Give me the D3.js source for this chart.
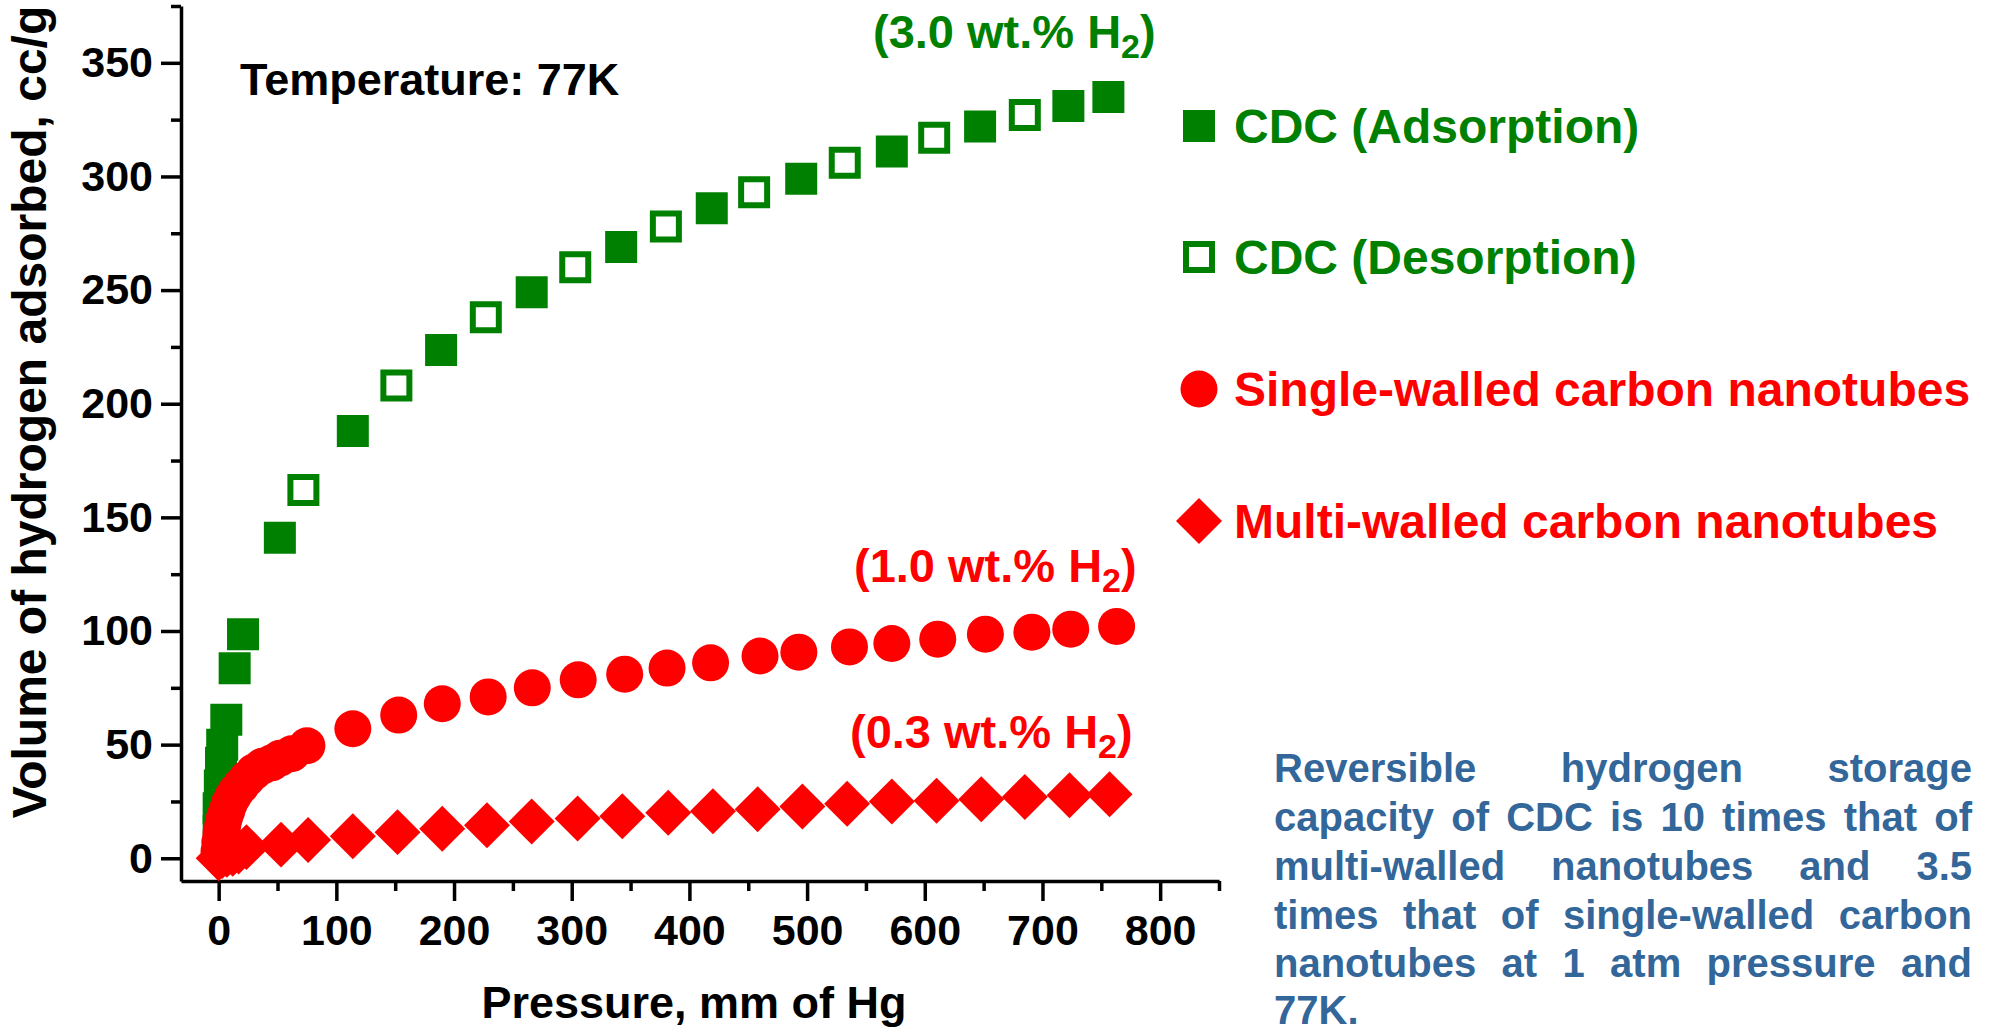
<!DOCTYPE html>
<meta charset="utf-8">
<style>
body { margin: 0; background: #fff; }
svg text { font-family: "Liberation Sans", Arial, sans-serif; font-weight: bold; }
.axis path, .axis line { fill: none; stroke: #000; stroke-width: 3.5px; }
</style>
<body>
<div id="chart"></div>
<script src="https://d3js.org/d3.v7.min.js"></script>
<script>

// values (pressure in mm Hg, volume in cc/g)
var cdcAdsP = [0, 0, 1, 2, 3, 6.5, 13.6, 20.7, 52, 114, 189, 266, 342, 419, 495, 572, 647, 722, 756];
var cdcAdsV = [12, 22, 32, 42, 50, 61, 83.6, 98.6, 141, 188, 223.6, 249, 269, 286, 299, 311, 322, 331, 335];

var cdcDesP = [72, 151, 227, 303, 380, 455, 532, 608, 685];
var cdcDesV = [162, 208, 238, 260, 278, 293, 306, 317, 327];

var swP = [0.3, 1, 2, 3.5, 5, 7, 9, 12, 15, 19, 24, 30, 37, 45, 52, 62, 75,
           114, 153, 190, 229, 266.5, 305.5, 345, 381, 418, 460, 493, 536, 572, 611, 651.5, 691, 724, 763];
var swV = [3, 7, 11, 14.5, 18, 21, 24, 27, 29.5, 32, 35, 38, 40.5, 42, 44, 46, 49.5,
           57, 63, 68, 71, 75, 78.5, 81, 83.7, 86, 89, 90.7, 93, 94.5, 96.4, 98.6, 99.5, 100.8, 102];

var mwP = [0, 3, 7, 12, 17, 23.6, 53, 76, 114, 152, 190, 228, 266, 305, 343, 382, 420, 458, 496, 534, 572, 610, 648, 685, 723, 757];
var mwV = [0, 1, 1.5, 2, 3, 4.9, 6, 8, 9.7, 11.5, 13, 14.5, 16.2, 17.5, 18.5, 20, 20.7, 21.6, 22.8, 24, 25, 25.3, 26, 27, 27.7, 28.2];

var xMajor = [0, 100, 200, 300, 400, 500, 600, 700, 800];
var xMinor = [50, 150, 250, 350, 450, 550, 650, 750, 850];
var yMajor = [0, 50, 100, 150, 200, 250, 300, 350];
var yMinor = [25, 75, 125, 175, 225, 275, 325, 375];

var legendLabels = ["CDC (Adsorption)", "CDC (Desorption)", "Single-walled carbon nanotubes", "Multi-walled carbon nanotubes"];
var noteLabels = ["(3.0 wt.% H", "(1.0 wt.% H", "(0.3 wt.% H"];
var noteLines = [
  "Reversible hydrogen storage",
  "capacity of CDC is 10 times that of",
  "multi-walled nanotubes and 3.5",
  "times that of single-walled carbon",
  "nanotubes at 1 atm pressure and",
  "77K."
];

var green = "#008000", red = "#ff0000", blue = "#336699";

var svg = d3.select("#chart").append("svg")
    .attr("width", 1995)
    .attr("height", 1033);

var x = d3.scaleLinear().domain([-32, 850]).range([181, 1219]);
var y = d3.scaleLinear().domain([-10, 375]).range([881, 6]);

// axes
var gx = svg.append("g").attr("class", "axis")
    .attr("transform", "translate(0," + y(-10) + ")")
    .call(d3.axisBottom(x).tickValues(xMajor).tickSize(20).tickSizeOuter(0));
gx.selectAll("text")
    .attr("y", 33).attr("dy", "0.71em")
    .style("font-size", "43px").style("fill", "#000");
svg.append("g").attr("class", "axis")
    .attr("transform", "translate(0," + y(-10) + ")")
    .call(d3.axisBottom(x).tickValues(xMinor).tickSize(10).tickSizeOuter(0).tickFormat(""))
    .select(".domain").remove();

var gy = svg.append("g").attr("class", "axis")
    .attr("transform", "translate(" + x(-32) + ",0)")
    .call(d3.axisLeft(y).tickValues(yMajor).tickSize(20).tickSizeOuter(0).tickPadding(8));
gy.selectAll("text").style("font-size", "43px").style("fill", "#000");
svg.append("g").attr("class", "axis")
    .attr("transform", "translate(" + x(-32) + ",0)")
    .call(d3.axisLeft(y).tickValues(yMinor).tickSize(10).tickSizeOuter(0).tickFormat(""))
    .select(".domain").remove();

// axis titles
svg.append("text")
    .attr("x", 694).attr("y", 1018)
    .attr("text-anchor", "middle")
    .style("font-size", "45px")
    .text("Pressure, mm of Hg");

svg.append("text")
    .attr("transform", "translate(46,412) rotate(-90)")
    .attr("text-anchor", "middle")
    .style("font-size", "48px")
    .text("Volume of hydrogen adsorbed, cc/g");

svg.append("text")
    .attr("x", 240).attr("y", 95)
    .style("font-size", "45px")
    .text("Temperature: 77K");

// markers
var squareFilled = d3.symbol().type(d3.symbolSquare).size(32 * 32);
var squareOpen = d3.symbol().type(d3.symbolSquare).size(26 * 26);
var circle = d3.symbol().type(d3.symbolCircle).size(Math.PI * 18.5 * 18.5);
var diamond = d3.symbol().type(d3.symbolSquare).size(32.5 * 32.5);

function pts(P, V) { return P.map(function(p, i) { return [p, V[i]]; }); }

svg.append("g").selectAll("path")
    .data(pts(cdcAdsP, cdcAdsV)).enter().append("path")
    .attr("d", squareFilled)
    .attr("transform", function(d) { return "translate(" + x(d[0]) + "," + y(d[1]) + ")"; })
    .attr("fill", green);

svg.append("g").selectAll("path")
    .data(pts(cdcDesP, cdcDesV)).enter().append("path")
    .attr("d", squareOpen)
    .attr("transform", function(d) { return "translate(" + x(d[0]) + "," + y(d[1]) + ")"; })
    .attr("fill", "#fff").attr("stroke", green).attr("stroke-width", 6);

svg.append("g").selectAll("path")
    .data(pts(swP, swV)).enter().append("path")
    .attr("d", circle)
    .attr("transform", function(d) { return "translate(" + x(d[0]) + "," + y(d[1]) + ")"; })
    .attr("fill", red);

svg.append("g").selectAll("path")
    .data(pts(mwP, mwV)).enter().append("path")
    .attr("d", diamond)
    .attr("transform", function(d) { return "translate(" + x(d[0]) + "," + y(d[1]) + ") rotate(45)"; })
    .attr("fill", red);

// legend
var legY = [126, 257, 389, 521];
var legColor = [green, green, red, red];
var leg = svg.append("g");
leg.append("path").attr("d", squareFilled).attr("transform", "translate(1199," + legY[0] + ")").attr("fill", green);
leg.append("path").attr("d", squareOpen).attr("transform", "translate(1199," + legY[1] + ")")
    .attr("fill", "#fff").attr("stroke", green).attr("stroke-width", 6);
leg.append("path").attr("d", circle).attr("transform", "translate(1199," + legY[2] + ")").attr("fill", red);
leg.append("path").attr("d", diamond).attr("transform", "translate(1199," + legY[3] + ") rotate(45)").attr("fill", red);
leg.selectAll("text").data(legendLabels).enter().append("text")
    .attr("x", 1234)
    .attr("y", function(d, i) { return legY[i] + 17; })
    .style("font-size", "48px")
    .attr("fill", function(d, i) { return legColor[i]; })
    .text(function(d) { return d; });

// wt.% notes
var notePos = [[873, 48, green], [854, 582, red], [850, 748, red]];
noteLabels.forEach(function(s, i) {
  var t = svg.append("text")
      .attr("x", notePos[i][0]).attr("y", notePos[i][1])
      .style("font-size", "47px")
      .attr("fill", notePos[i][2]);
  t.append("tspan").text(s);
  t.append("tspan").attr("dy", 10).style("font-size", "34px").text("2");
  t.append("tspan").attr("dy", -10).text(")");
});

// justified blue note
var left = 1274, right = 1972;
var base = [782, 831, 880, 929, 977, 1024];
var note = svg.append("g").attr("fill", blue).style("font-size", "40px");
noteLines.forEach(function(line, i) {
  var words = line.split(" ");
  var nodes = words.map(function(w) { return note.append("text").attr("y", base[i]).text(w); });
  var widths = nodes.map(function(n) { return n.node().getComputedTextLength(); });
  var last = i === noteLines.length - 1;
  var gap = (last || words.length < 2) ? 11 : (right - left - d3.sum(widths)) / (words.length - 1);
  var cx = left;
  nodes.forEach(function(n, j) { n.attr("x", cx); cx += widths[j] + gap; });
});

</script>
